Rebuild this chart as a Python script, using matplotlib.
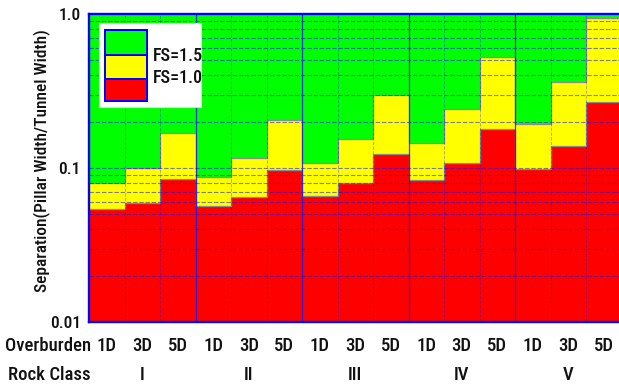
import matplotlib
matplotlib.use("Agg")
import matplotlib.pyplot as plt
from matplotlib.patches import Rectangle
from matplotlib.transforms import blended_transform_factory
import numpy as np

plt.rcParams['font.family'] = ['Roboto Condensed', 'DejaVu Sans']
plt.rcParams['font.weight'] = 'medium'

# Data: required separation ratio for each rock class / overburden combination
rock_classes = ["I", "II", "III", "IV", "V"]
overburdens = ["1D", "3D", "5D"]
fs_10 = [0.054, 0.059, 0.085,
         0.057, 0.065, 0.097,
         0.066, 0.080, 0.123,
         0.083, 0.107, 0.178,
         0.099, 0.138, 0.270]
fs_15 = [0.080, 0.100, 0.169,
         0.087, 0.116, 0.204,
         0.107, 0.154, 0.299,
         0.146, 0.240, 0.528,
         0.192, 0.363, 0.946]
y_ticks = [0.01, 0.1, 1.0]
y_tick_labels = ["0.01", "0.1", "1.0"]

W, H = 619, 388
fig = plt.figure(figsize=(W / 100, H / 100), dpi=100)

def px_axes(l, t, r, b):
    return [l / W, 1 - b / H, (r - l) / W, (b - t) / H]

ax = fig.add_axes(px_axes(89, 14, 621.5, 322))

n = len(fs_10)
x = np.arange(n)
edges = np.arange(n + 1)
ymin, ymax = 0.01, 1.0
red = np.array(fs_10)
yel = np.array(fs_15)

ax.bar(x, red - ymin, bottom=ymin, width=1.0, align='edge', color='#ff0000', linewidth=0, zorder=1)
ax.bar(x, yel - red, bottom=red, width=1.0, align='edge', color='#ffff00', linewidth=0, zorder=1)
ax.bar(x, ymax - yel, bottom=yel, width=1.0, align='edge', color='#00ff00', linewidth=0, zorder=1)

# step outlines of the two safety-factor boundaries
ax.stairs(red, edges, baseline=None, color='#8c8c8c', linewidth=0.9, zorder=2)
ax.stairs(yel, edges, baseline=None, color='#8c8c8c', linewidth=0.9, zorder=2)

ax.set_yscale('log')
ax.set_ylim(ymin, ymax)
ax.set_xlim(0, n)

# dashed grid at every decade subdivision
grid_vals = [m * 10.0 ** e for e in (-2, -1) for m in range(2, 10)] + [0.1]
for g in grid_vals:
    ax.axhline(g, color=(0, 0, 1, 0.5), linewidth=0.8, linestyle=(0, (4, 1.6)), zorder=3)
for xe in edges[1:-1]:
    if xe % 3 == 0:
        ax.axvline(xe, color=(0.1, 0.1, 0.9, 0.85), linewidth=0.9, zorder=4)
    else:
        ax.axvline(xe, color=(0, 0, 1, 0.35), linewidth=0.6, linestyle=(0, (4, 1.6)), zorder=3)

for side in ['left', 'bottom', 'top', 'right']:
    ax.spines[side].set_color('#0000ff')
    ax.spines[side].set_linewidth(1.7)
    ax.spines[side].set_zorder(5)

ax.set_yticks(y_ticks)
ax.set_yticklabels(y_tick_labels)
ax.yaxis.set_minor_locator(matplotlib.ticker.NullLocator())
ax.tick_params(axis='y', length=0, pad=6, labelsize=12.5, labelcolor='#111111')
ax.set_xticks([])

# category rows under the axis
trans = blended_transform_factory(ax.transData, ax.transAxes)
row1 = (322 - 346) / 308
row2 = (322 - 375) / 308
for i in range(n):
    ax.text(i + 0.5, row1, overburdens[i % 3], transform=trans, ha='center', va='center',
            fontsize=13.5, color='#111111')
for k, rc in enumerate(rock_classes):
    ax.text(3 * k + 1.5, row2, rc, transform=trans, ha='center', va='center',
            fontsize=13.5, color='#111111')
fig.text(48 / W, 1 - 346 / H, "Overburden", ha='center', va='center', fontsize=13.5, color='#111111')
fig.text(49 / W, 1 - 375 / H, "Rock Class", ha='center', va='center', fontsize=13.5, color='#111111')

fig.text(42 / W, 1 - 161 / H, "Separation(Pillar Width/Tunnel Width)", rotation=90,
         ha='center', va='center', fontsize=12.5, color='#111111')

# legend box
lg = fig.add_axes(px_axes(99, 23, 201, 107))
lg.set_xlim(99, 201)
lg.set_ylim(107, 23)
lg.set_xticks([])
lg.set_yticks([])
lg.set_facecolor('white')
for s in lg.spines.values():
    s.set_color('#dddddd')
    s.set_linewidth(0.8)
lg.set_zorder(10)
lg.add_patch(Rectangle((104, 29), 44, 73, facecolor='#0000ff', edgecolor='none'))
lg.add_patch(Rectangle((106, 31), 40, 23, facecolor='#00ff00', edgecolor='none'))
lg.add_patch(Rectangle((106, 56), 40, 22, facecolor='#ffff00', edgecolor='none'))
lg.add_patch(Rectangle((106, 80), 40, 20, facecolor='#ff0000', edgecolor='none'))
lg.text(153, 56, "FS=1.5", ha='left', va='center', fontsize=13, color='#111111')
lg.text(153, 78, "FS=1.0", ha='left', va='center', fontsize=13, color='#111111')

fig.savefig("out.png", dpi=100)
